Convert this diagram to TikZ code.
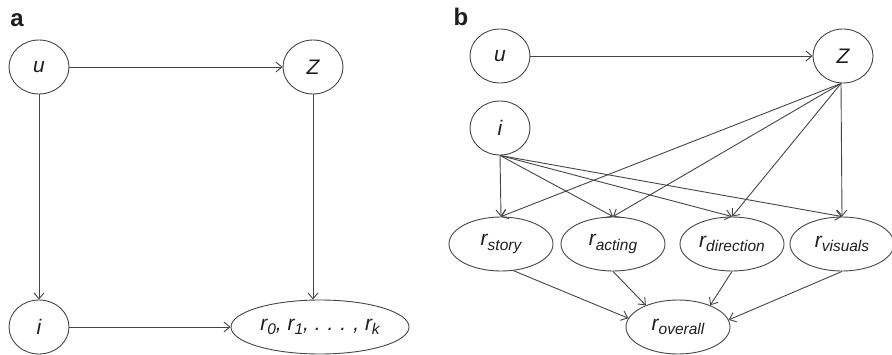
\documentclass[tikz,border=0pt]{standalone}
\usepackage{fontspec}
\setmainfont{Liberation Sans}
\usetikzlibrary{shapes.geometric,arrows.meta}
\definecolor{edgecol}{HTML}{454545}
\definecolor{txtcol}{HTML}{1E1E1E}
\newcommand\mainsz{\fontsize{21}{23}\selectfont}
\newcommand\subsz{\fontsize{15.5}{16}\selectfont}
\newcommand\rsb[1]{r\raisebox{-4.5pt}{\subsz #1}}
\begin{document}
\begin{tikzpicture}[x=1pt,y=-1pt,
  var/.style={ellipse,draw=edgecol,line width=0.9pt,inner sep=0pt,
    minimum width=60pt,minimum height=54pt,font=\mainsz\itshape,text=txtcol},
  wide/.style={var,minimum width=104pt,minimum height=54pt},
  widest/.style={var,minimum width=178pt,minimum height=54pt},
  panel/.style={font=\fontsize{24}{26}\selectfont\bfseries,text=txtcol,inner sep=0pt},
  arr/.style={draw=edgecol,line width=0.9pt,-{Straight Barb[length=6pt,width=10pt]}}]
\useasboundingbox (0,0) rectangle (892,354);
% panel a
\node[panel] (la) at (17,20) {a};
\node[var] (ua) at (39,67) {u};
\node[var] (za) at (313,67) {Z};
\node[var] (ia) at (39,327) {i};
\node[widest] (ra) at (320,327) {\rsb{0}, \rsb{1}, .\,\,.\,\,.\,\,, \rsb{k}};
\draw[arr] (ua) -- (za);
\draw[arr] (ua) -- (ia);
\draw[arr] (za.south) -- (ra.north -| za.south);
\draw[arr] (ia) -- (ra);
% panel b
\node[panel] (lb) at (461,17) {b};
\node[var] (ub) at (500,56) {u};
\node[var] (zb) at (843,56) {Z};
\node[var] (ib) at (500,128) {i};
\node[wide] (rs) at (501,244) {\rsb{story}};
\node[wide] (rac) at (613,244) {\rsb{acting}};
\node[wide] (rd) at (732,244) {\rsb{direction}};
\node[wide] (rv) at (842,244) {\rsb{visuals}};
\node[wide] (ro) at (678,327) {\rsb{overall}};
\coordinate (zs) at ([xshift=-2pt]zb.south);
\draw[arr] (ub) -- (zb);
\foreach \t in {rs,rac,rd,rv} {
  \draw[arr] (ib.south) -- (\t.north);
  \draw[arr] (zs) -- (\t.north);
}
\draw[arr] (rs.-65) -- (ro.170);
\draw[arr] (rac.south) -- (ro.146);
\draw[arr] (rd.south) -- (ro.34);
\draw[arr] (rv.south) -- (ro.8);
\end{tikzpicture}
\end{document}
